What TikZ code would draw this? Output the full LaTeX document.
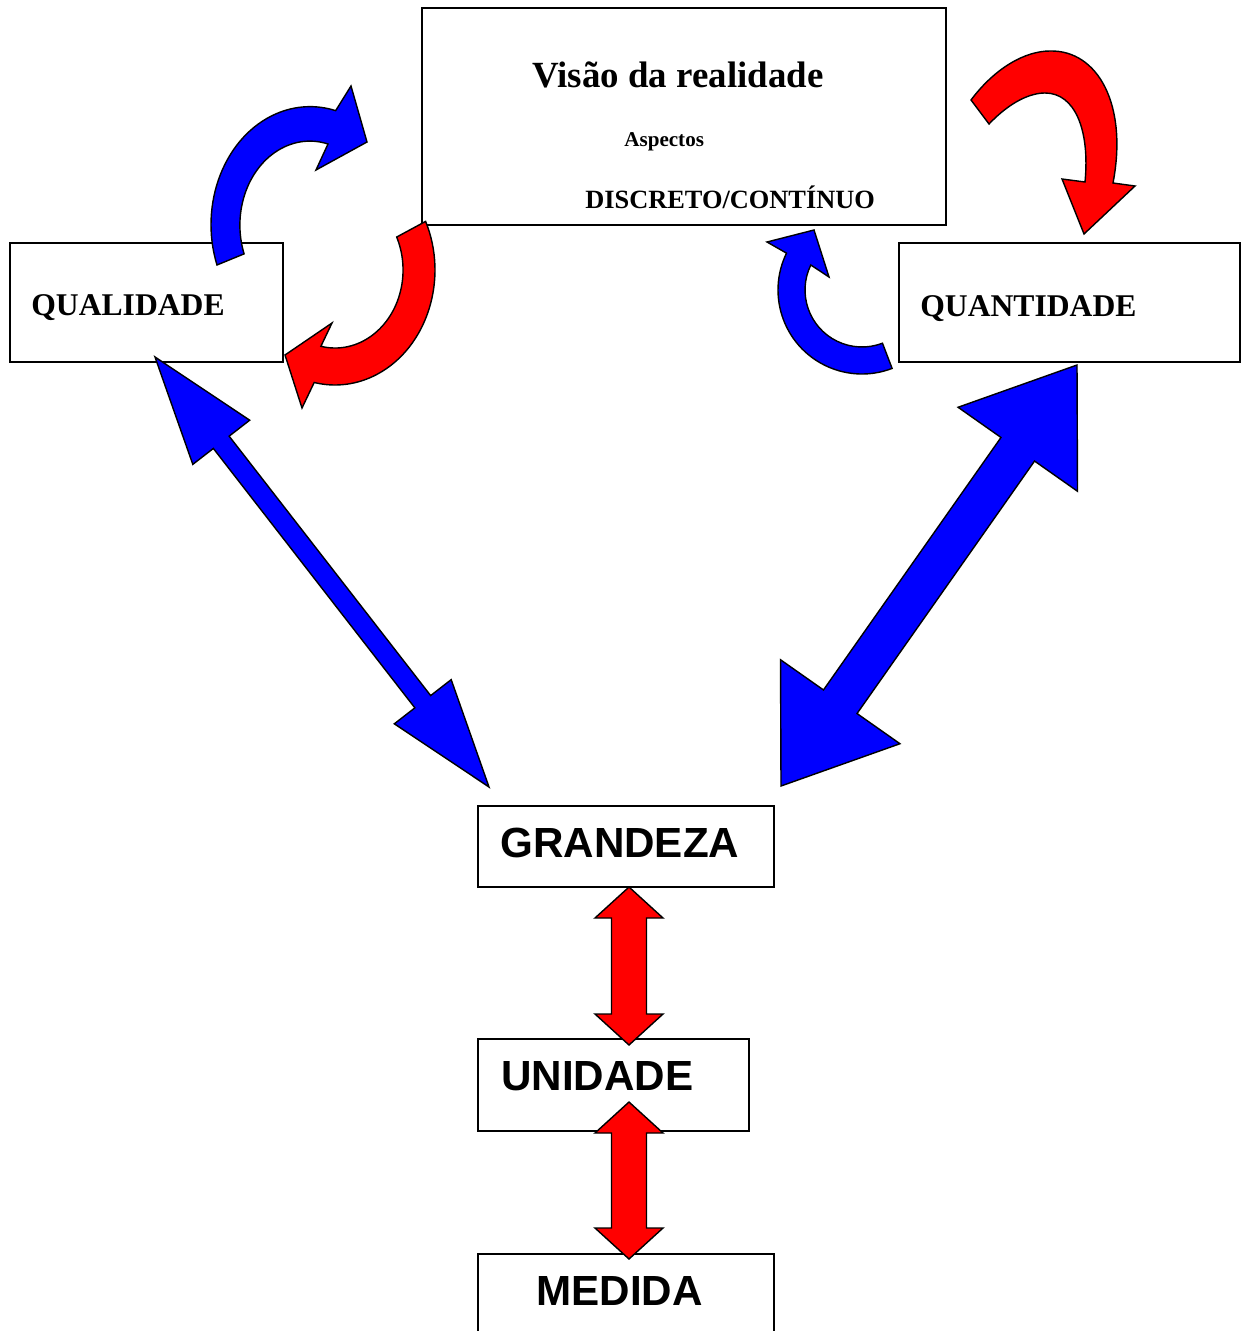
\documentclass[tikz,border=0pt]{standalone}
\usepackage{fontspec}
\setmainfont{Liberation Serif}
\setsansfont{Liberation Sans}
\usetikzlibrary{calc, positioning}
\newcommand{\pxl}{0.02cm} % one pixel of the drawing
\tikzset{
    box/.style 2 args={draw, line width=1pt, anchor=north west, inner sep=0pt, outer sep=0pt,
        minimum width=#1*\pxl, minimum height=#2*\pxl}, % empty frame of a box
    serif text/.style={font=\bfseries\fontsize{18}{20}\selectfont, anchor=base west, inner sep=0pt},
    sans text/.style={font=\sffamily\bfseries\fontsize{24}{28}\selectfont, anchor=base west, inner sep=0pt},
    bluearrow/.style={draw=black, fill=blue, line width=0.8pt, line join=miter}, % block arrows
    redarrow/.style={draw=black, fill=red, line width=0.8pt, line join=miter},
}
% straight block arrow with two heads: tips #1 and #2, half shaft #3, half head #4, head length #5
\newcommand{\dblarrow}[6]{%
    \path ($(#1)!#5*\pxl!(#2)$) coordinate (ha) ($(#2)!#5*\pxl!(#1)$) coordinate (hb);
    \filldraw[#6] (#1) -- ($(ha)!#4*\pxl!90:(#2)$) -- ($(ha)!#3*\pxl!90:(#2)$)
        -- ($(hb)!#3*\pxl!-90:(#1)$) -- ($(hb)!#4*\pxl!-90:(#1)$) -- (#2)
        -- ($(hb)!#4*\pxl!90:(#1)$) -- ($(hb)!#3*\pxl!90:(#1)$)
        -- ($(ha)!#3*\pxl!-90:(#2)$) -- ($(ha)!#4*\pxl!-90:(#2)$) -- cycle;
}

\begin{document}
\begin{tikzpicture}[x=0.02cm, y=-0.02cm]

        \useasboundingbox (0,0) rectangle (1241,1331);

        % Boxes
        \node[box={524}{217}] (visao) at (422,8) {};
        \node[box={273}{119}] (qual) at (10,243) {};
        \node[box={341}{119}] (quant) at (899,243) {};
        \node[box={296}{81}] (grand) at (478,806) {};
        \node[box={271}{92}] (unid) at (478,1039) {};
        \node[box={296}{91}] (med) at (478,1254) {};

        % Texts
        \node[serif text, font=\bfseries\fontsize{21}{24}\selectfont, anchor=base] (titulo)
            at ($(visao.north west)+(256,80)$) {Visão da realidade};
        \node[serif text, font=\bfseries\fontsize{12}{14}\selectfont] (aspectos)
            at ($(visao.north west)+(202,139)$) {Aspectos};
        \node[serif text, font=\bfseries\fontsize{15}{18}\selectfont] (discreto)
            at ($(visao.north west)+(163,201)$) {DISCRETO/CONTÍNUO};
        \node[serif text] (qualtxt) at ($(qual.north west)+(21,72)$) {QUALIDADE};
        \node[serif text] (quanttxt) at ($(quant.north west)+(21,73)$) {QUANTIDADE};
        \node[sans text] (grandtxt) at ($(grand.north west)+(22,51)$) {GRANDEZA};
        \node[sans text] (unidtxt) at ($(unid.north west)+(23,51)$) {UNIDADE};
        \node[sans text] (medtxt) at ($(med.north west)+(58,51)$) {MEDIDA};

        % Ends of the straight arrows
        \coordinate (qa) at ($(qual.south west)+(145,-5)$);
        \coordinate (ga) at ($(grand.north west)+(11,-19)$);
        \coordinate (qb) at ($(quant.south west)+(178,3)$);
        \coordinate (gb) at ($(grand.north east)+(7,-20)$);
        \coordinate (gc) at ($(grand.south west)+(151,0)$);
        \coordinate (uc) at ($(unid.north west)+(151,6)$);
        \coordinate (ud) at ($(unid.south west)+(151,-29)$);
        \coordinate (md) at ($(med.north west)+(151,5)$);

        % Straight arrows
        \dblarrow{qa}{ga}{10}{36}{108}{bluearrow}
        \dblarrow{qb}{gb}{20.5}{73}{103}{bluearrow}
        \dblarrow{gc}{uc}{17.5}{34}{31}{redarrow}
        \dblarrow{ud}{md}{17.5}{34}{31}{redarrow}

        % Curved arrows
        \filldraw[bluearrow] (217,265) arc[start angle=160, end angle=285, x radius=99, y radius=118]
            -- (351,86) -- (367,142) -- (316,170) -- (328,144)
            arc[start angle=285, end angle=160, x radius=70, y radius=84] -- cycle;
        \filldraw[redarrow] (425.6,221.4) arc[start angle=-25, end angle=102, x radius=100, y radius=115]
            -- (302,408) -- (285,355) -- (332,323) -- (320.9,346.3)
            arc[start angle=102, end angle=-25, x radius=68, y radius=78] -- cycle;
        \filldraw[redarrow] (971,100) .. controls (995,68) and (1025,51) .. (1050,51)
            .. controls (1098,50) and (1128,105) .. (1113,183)
            -- (1135,186) -- (1084,234) -- (1062,179) -- (1085,182)
            .. controls (1090,130) and (1075,93) .. (1045,93)
            .. controls (1030,93) and (1010,102) .. (989,124) -- cycle;
        \filldraw[bluearrow] (892.1,368.4) arc[start angle=69, end angle=206, radius=84]
            -- (767,242) -- (814,230) -- (829,277) -- (810.8,265)
            arc[start angle=206, end angle=69, radius=57] -- cycle;

\end{tikzpicture}
\end{document}
